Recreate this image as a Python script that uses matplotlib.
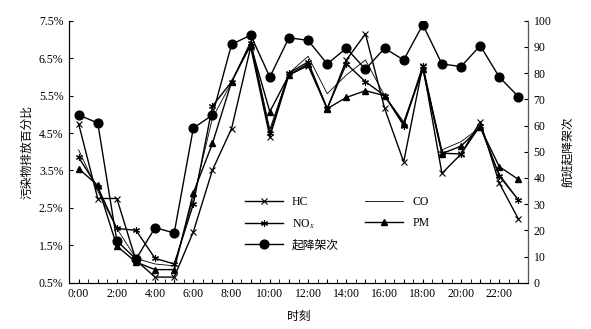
import matplotlib
matplotlib.use('Agg')
import matplotlib.pyplot as plt
import numpy as np

plt.rcParams['font.family'] = ['Liberation Serif', 'Noto Sans CJK SC']
plt.rcParams['font.size'] = 8.5
plt.rcParams['mathtext.fontset'] = 'stix'

# hourly data
hours = np.arange(24)
hc = [4.75, 2.75, 2.75, 1.10, 0.65, 0.65, 1.86, 3.51, 4.62, 6.80, 4.40, 6.05,
      6.30, 5.15, 6.45, 7.15, 5.16, 3.73, 6.30, 3.42, 3.94, 4.80, 3.16, 2.20]
co = [4.05, 2.95, 1.95, 1.15, 1.00, 0.95, 2.75, 4.90, 5.85, 6.95, 4.60, 6.10,
      6.55, 5.55, 6.05, 6.45, 5.50, 4.80, 6.25, 4.05, 4.27, 4.65, 3.40, 2.71]
nox = [3.85, 3.05, 1.95, 1.90, 1.15, 1.00, 2.60, 5.22, 5.87, 6.90, 4.50, 6.10,
       6.40, 5.15, 6.35, 5.87, 5.50, 4.70, 6.30, 3.96, 3.94, 4.70, 3.35, 2.71]
pm = [3.55, 3.10, 1.48, 1.05, 0.85, 0.85, 2.90, 4.22, 5.87, 6.85, 5.07, 6.05,
      6.35, 5.15, 5.45, 5.63, 5.50, 4.75, 6.20, 3.95, 4.15, 4.65, 3.60, 3.26]
flights = [64, 61, 16, 9, 21, 19, 59, 64, 91, 94.5, 78.5, 93.5,
           92.5, 83.5, 89.5, 81.5, 89.5, 85, 98.5, 83.5, 82.5, 90.5, 78.5, 71]

fig = plt.figure(figsize=(5.91, 3.29), dpi=100)
ax = fig.add_axes([0.1168, 0.1407, 0.7766, 0.7963])
ax2 = ax.twinx()

l1, = ax.plot(hours, hc, color='k', lw=1.0, marker='x', ms=5, mew=0.8, label='HC')
l2, = ax.plot(hours, co, color='k', lw=0.6, label='CO')
l3, = ax.plot(hours, nox, color='k', lw=1.0, marker=(6, 2, 0), ms=5, mew=0.8, label='NO$_x$')
l4, = ax.plot(hours, pm, color='k', lw=1.0, marker='^', ms=5, label='PM')
l5, = ax2.plot(hours, flights, color='k', lw=1.0, marker='o', ms=6.3, label='起降架次')

ax.set_xlim(-0.5, 23.5)
ax.set_ylim(0.5, 7.5)
ax.set_yticks(np.arange(0.5, 7.6, 1.0))
ax.set_yticklabels(['%.1f%%' % v for v in np.arange(0.5, 7.6, 1.0)])
ax2.set_ylim(0, 100)
ax2.set_yticks(np.arange(0, 101, 10))

ax.set_xticks(hours)
ax.set_xticklabels(['%d:00' % h if h % 2 == 0 else '' for h in hours])
ax.set_xticks(np.arange(0.5, 23.5, 1.0), minor=True)

ax.tick_params(axis='x', which='both', direction='in', length=3, pad=4)
ax.tick_params(axis='y', direction='in', length=3, pad=4)
ax2.tick_params(axis='y', direction='in', length=3, pad=4)

ax.spines['top'].set_visible(False)
ax2.spines['top'].set_visible(False)
ax2.spines['right'].set_color('#555555')

ax.set_ylabel('污染物排放百分比', fontsize=8.5, labelpad=4)
ax2.set_ylabel('航班起降架次', fontsize=8.5, labelpad=8)
ax.set_xlabel('时刻', fontsize=8.5, labelpad=8)

ax2.legend(handles=[l1, l3, l5, l2, l4], ncol=2, frameon=False,
           loc='upper left', bbox_to_anchor=(0.36, 0.37),
           handlelength=3.2, labelspacing=0.75, columnspacing=2.2,
           fontsize=8.5)

plt.savefig('out.png', dpi=100)
